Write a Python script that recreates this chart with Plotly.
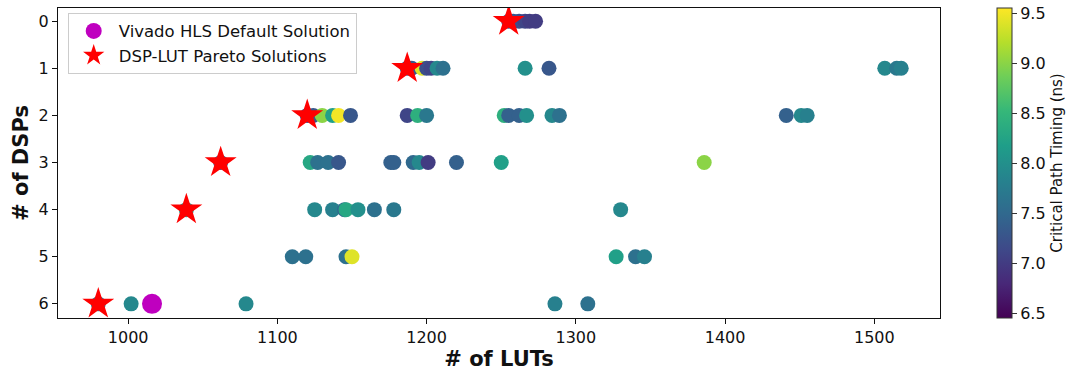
import plotly.graph_objects as go

# Design points: DSP count -> LUT counts and critical path timing (ns)
row0_luts = [1255, 1258, 1262, 1266, 1269, 1273]
row0_time = [7.3, 7.3, 7.2, 7.1, 7.0, 7.0]
row1_luts = [1187, 1190, 1197, 1200, 1203, 1207, 1211, 1266, 1282, 1507, 1515, 1518]
row1_time = [7.3, 7.3, 9.4, 7.2, 7.1, 7.9, 7.6, 8.0, 7.3, 7.9, 7.7, 7.8]
row2_luts = [1120, 1124, 1130, 1137, 1141, 1149, 1187, 1194, 1200, 1252, 1255, 1262, 1267, 1284, 1289, 1441, 1451, 1455]
row2_time = [7.3, 7.3, 9.0, 8.2, 9.5, 7.3, 7.1, 8.4, 7.7, 8.4, 7.4, 7.4, 8.0, 7.9, 7.6, 7.4, 7.9, 7.8]
row3_luts = [1062, 1122, 1127, 1134, 1141, 1176, 1178, 1191, 1195, 1201, 1220, 1250, 1386]
row3_time = [7.4, 8.3, 7.6, 7.6, 7.3, 7.4, 7.4, 7.5, 7.9, 7.0, 7.4, 8.2, 9.0]
row4_luts = [1039, 1125, 1137, 1145, 1146, 1154, 1165, 1178, 1330]
row4_time = [8.1, 7.9, 7.8, 7.5, 8.3, 8.0, 7.6, 7.7, 7.9]
row5_luts = [1110, 1119, 1146, 1150, 1327, 1340, 1346]
row5_time = [7.6, 7.6, 7.6, 9.4, 8.2, 7.6, 7.8]
row6_luts = [980, 1002, 1079, 1286, 1308]
row6_time = [7.6, 7.9, 7.9, 7.8, 7.6]

default_luts = [1016]
default_dsps = [6]

pareto_luts = [1255, 1187, 1120, 1062, 1039, 980]
pareto_dsps = [0, 1, 2, 3, 4, 6]

x_ticks = [1000, 1100, 1200, 1300, 1400, 1500]
y_ticks = [0, 1, 2, 3, 4, 5, 6]
cbar_ticks = [6.5, 7.0, 7.5, 8.0, 8.5, 9.0, 9.5]

rows = [row0_luts, row1_luts, row2_luts, row3_luts, row4_luts, row5_luts, row6_luts]
times = [row0_time, row1_time, row2_time, row3_time, row4_time, row5_time, row6_time]

all_x, all_y, all_c = [], [], []
for dsp, (lx, tc) in enumerate(zip(rows, times)):
    all_x += lx
    all_y += [dsp] * len(lx)
    all_c += tc

FONT = "DejaVu Sans"

fig = go.Figure()
fig.add_trace(go.Scatter(
    x=all_x, y=all_y, mode="markers", showlegend=False,
    marker=dict(size=15, color=all_c, colorscale="Viridis", cmin=6.45, cmax=9.55,
                line=dict(width=0),
                colorbar=dict(
                    x=1.0646, xanchor="left", xpad=0, y=0.5, yanchor="middle", ypad=0,
                    len=1.0, lenmode="fraction", thickness=15,
                    outlinewidth=1, outlinecolor="#333",
                    tickvals=cbar_ticks, ticktext=[f"{v:.1f}" for v in cbar_ticks],
                    ticks="outside", ticklen=5, tickcolor="#333",
                    tickfont=dict(family=FONT, size=16, color="#111"),
                    title=dict(text="Critical Path Timing (ns)", side="right",
                               font=dict(family=FONT, size=15, color="#111")),
                )),
))
fig.add_trace(go.Scatter(
    x=default_luts, y=default_dsps, mode="markers", name="Vivado HLS Default Solution",
    marker=dict(size=20, color="#bf00bf", symbol="circle", line=dict(width=0)),
))
fig.add_trace(go.Scatter(
    x=pareto_luts, y=pareto_dsps, mode="markers", name="DSP-LUT Pareto Solutions",
    marker=dict(size=24, color="#ff0000", symbol="star", line=dict(width=0)),
))

axis_common = dict(showline=True, linecolor="#111", linewidth=1, mirror=True,
                   ticks="outside", ticklen=5, tickcolor="#111", showgrid=False,
                   zeroline=False, tickfont=dict(family=FONT, size=16, color="#111"))

fig.update_layout(
    width=1076, height=373,
    margin=dict(l=58, r=136, t=8, b=55, autoexpand=False),
    plot_bgcolor="white", paper_bgcolor="white",
    font=dict(family=FONT, color="#111"),
    xaxis=dict(range=[953, 1544], tickvals=x_ticks,
               title=dict(text="<b># of LUTs</b>", font=dict(family=FONT, size=21), standoff=4),
               **axis_common),
    yaxis=dict(range=[6.3, -0.28], tickvals=y_ticks,
               title=dict(text="<b># of DSPs</b>", font=dict(family=FONT, size=21), standoff=4),
               **axis_common),
    legend=dict(x=0.011, y=0.985, xanchor="left", yanchor="top",
                bordercolor="#ccc", borderwidth=1, bgcolor="rgba(255,255,255,0.8)",
                font=dict(family=FONT, size=16.5, color="#111"), itemsizing="trace",
                itemwidth=40),
)

fig.write_html("out.html")
